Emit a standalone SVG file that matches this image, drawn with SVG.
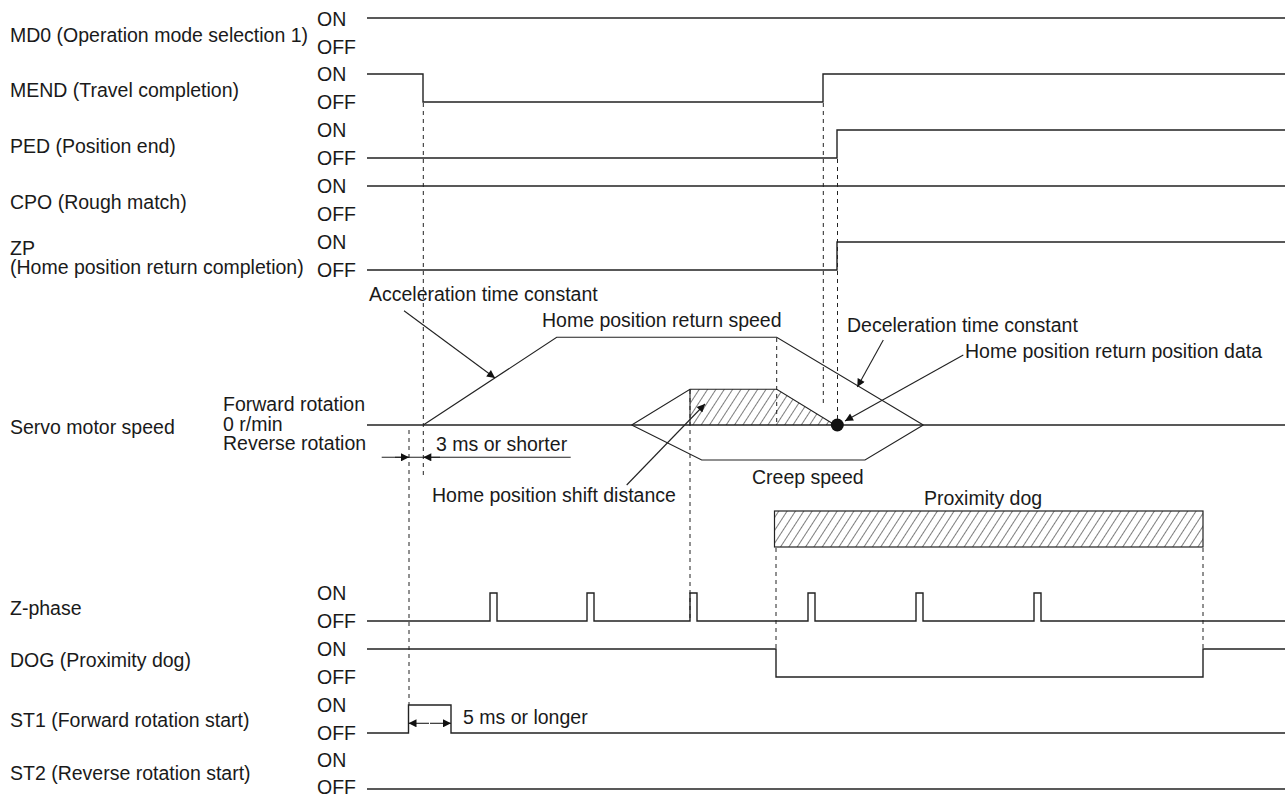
<svg xmlns="http://www.w3.org/2000/svg" width="1285" height="796" viewBox="0 0 1285 796">
<defs>
<style>
text{font-family:"Liberation Sans",Arial,sans-serif;font-size:19.5px;fill:#1a1a1a}
.sig{fill:none;stroke:#222;stroke-width:1.4}
.dash{fill:none;stroke:#222;stroke-width:1;stroke-dasharray:4 4}
.ld{fill:none;stroke:#222;stroke-width:1.1}
</style>
<marker id="ah" viewBox="0 0 10 10" refX="10" refY="5" markerWidth="11" markerHeight="8" markerUnits="userSpaceOnUse" orient="auto">
<path d="M0,0 L10,5 L0,10 z" fill="#111"/>
</marker>
<pattern id="hatch" patternUnits="userSpaceOnUse" width="7" height="7" patternTransform="rotate(33)">
<line x1="0" y1="-1" x2="0" y2="8" stroke="#111" stroke-width="1.1"/>
</pattern>
</defs>
<rect width="1285" height="796" fill="#fff"/>

<g id="md0">
<text x="10" y="42">MD0 (Operation mode selection 1)</text>
<text x="317" y="26">ON</text><text x="317" y="54">OFF</text>
<path class="sig" d="M367,18 H1285"/>
</g>
<g id="mend">
<text x="10" y="97">MEND (Travel completion)</text>
<text x="317" y="81">ON</text><text x="317" y="109">OFF</text>
<path class="sig" d="M367,74 H423 V102 H823 V74 H1285"/>
</g>
<g id="ped">
<text x="10" y="153">PED (Position end)</text>
<text x="317" y="137">ON</text><text x="317" y="165">OFF</text>
<path class="sig" d="M367,158 H837 V130 H1285"/>
</g>
<g id="cpo">
<text x="10" y="209">CPO (Rough match)</text>
<text x="317" y="193">ON</text><text x="317" y="221">OFF</text>
<path class="sig" d="M367,186 H1285"/>
</g>
<g id="zp">
<text x="10" y="255">ZP</text>
<text x="10" y="274">(Home position return completion)</text>
<text x="317" y="249">ON</text><text x="317" y="277">OFF</text>
<path class="sig" d="M367,270 H837 V242 H1285"/>
</g>

<g id="servo">
<text x="10" y="434">Servo motor speed</text>
<text x="223" y="411">Forward rotation</text>
<text x="223" y="431">0 r/min</text>
<text x="223" y="450">Reverse rotation</text>
<path class="sig" d="M367,425 H1285"/>
<polygon points="690,425 690,389.3 776.7,389.3 835,425" fill="url(#hatch)" stroke="none"/>
<path class="ld" d="M423.3,425 L556.7,337.3 H776.7 L923.3,425"/>
<path class="ld" d="M631.7,425 L690,389.3 H776.7 L835,425"/>
<path class="ld" d="M690,389.3 V425"/>
<path class="ld" d="M631.7,425 L701.7,460 H865 L923.3,425"/>
<circle cx="837.3" cy="425" r="6.5" fill="#111"/>
<text x="369" y="301">Acceleration time constant</text>
<text x="542" y="327">Home position return speed</text>
<text x="847" y="332">Deceleration time constant</text>
<text x="965" y="358">Home position return position data</text>
<text x="436" y="451">3 ms or shorter</text>
<text x="752" y="484">Creep speed</text>
<text x="432" y="502">Home position shift distance</text>
</g>

<g id="proximity-dog">
<text x="924" y="505">Proximity dog</text>
<rect x="774.5" y="511" width="428.5" height="36" fill="url(#hatch)" stroke="#222" stroke-width="1.2"/>
</g>

<g id="zphase">
<text x="10" y="615">Z-phase</text>
<text x="317" y="600">ON</text><text x="317" y="628">OFF</text>
<path class="sig" d="M367,621 H490 V593 H497 V621 H587 V593 H594 V621 H690 V593 H697 V621 H808 V593 H815 V621 H916 V593 H923 V621 H1034 V593 H1041 V621 H1285"/>
</g>
<g id="dog">
<text x="10" y="667">DOG (Proximity dog)</text>
<text x="317" y="656">ON</text><text x="317" y="684">OFF</text>
<path class="sig" d="M367,649 H776 V677 H1203 V649 H1285"/>
</g>
<g id="st1">
<text x="10" y="727">ST1 (Forward rotation start)</text>
<text x="317" y="712">ON</text><text x="317" y="740">OFF</text>
<path class="sig" d="M367,733 H408.5 V705 H451 V733 H1285"/>
<text x="463" y="724">5 ms or longer</text>
</g>
<g id="st2">
<text x="10" y="780">ST2 (Reverse rotation start)</text>
<text x="317" y="767">ON</text><text x="317" y="794">OFF</text>
<path class="sig" d="M367,789 H1285"/>
</g>

<g id="connectors">
<path class="dash" d="M423.3,103 V476"/>
<path class="dash" d="M409,430 V705"/>
<path class="dash" d="M823.3,103 V403"/>
<path class="dash" d="M837.5,159 V419"/>
<path class="dash" d="M776.7,338 V425"/>
<path class="dash" d="M776,548 V649"/>
<path class="dash" d="M690,390 V621"/>
<path class="dash" d="M1203,548 V649"/>
<path class="ld" d="M404,310.7 L495,378" marker-end="url(#ah)"/>
<path class="ld" d="M883.3,340 L857.3,387" marker-end="url(#ah)"/>
<path class="ld" d="M963.3,355 L845,421" marker-end="url(#ah)"/>
<path class="ld" d="M626.7,485 L705,404" marker-end="url(#ah)"/>
<path class="ld" d="M381.7,457.3 H570.7"/>
<path class="ld" d="M395,457.3 H409" marker-end="url(#ah)"/>
<path class="ld" d="M440,457.3 H423.3" marker-end="url(#ah)"/>
<path class="ld" d="M429,723.3 H408.5" marker-end="url(#ah)"/>
<path class="ld" d="M430,723.3 H451" marker-end="url(#ah)"/>
</g>
</svg>
